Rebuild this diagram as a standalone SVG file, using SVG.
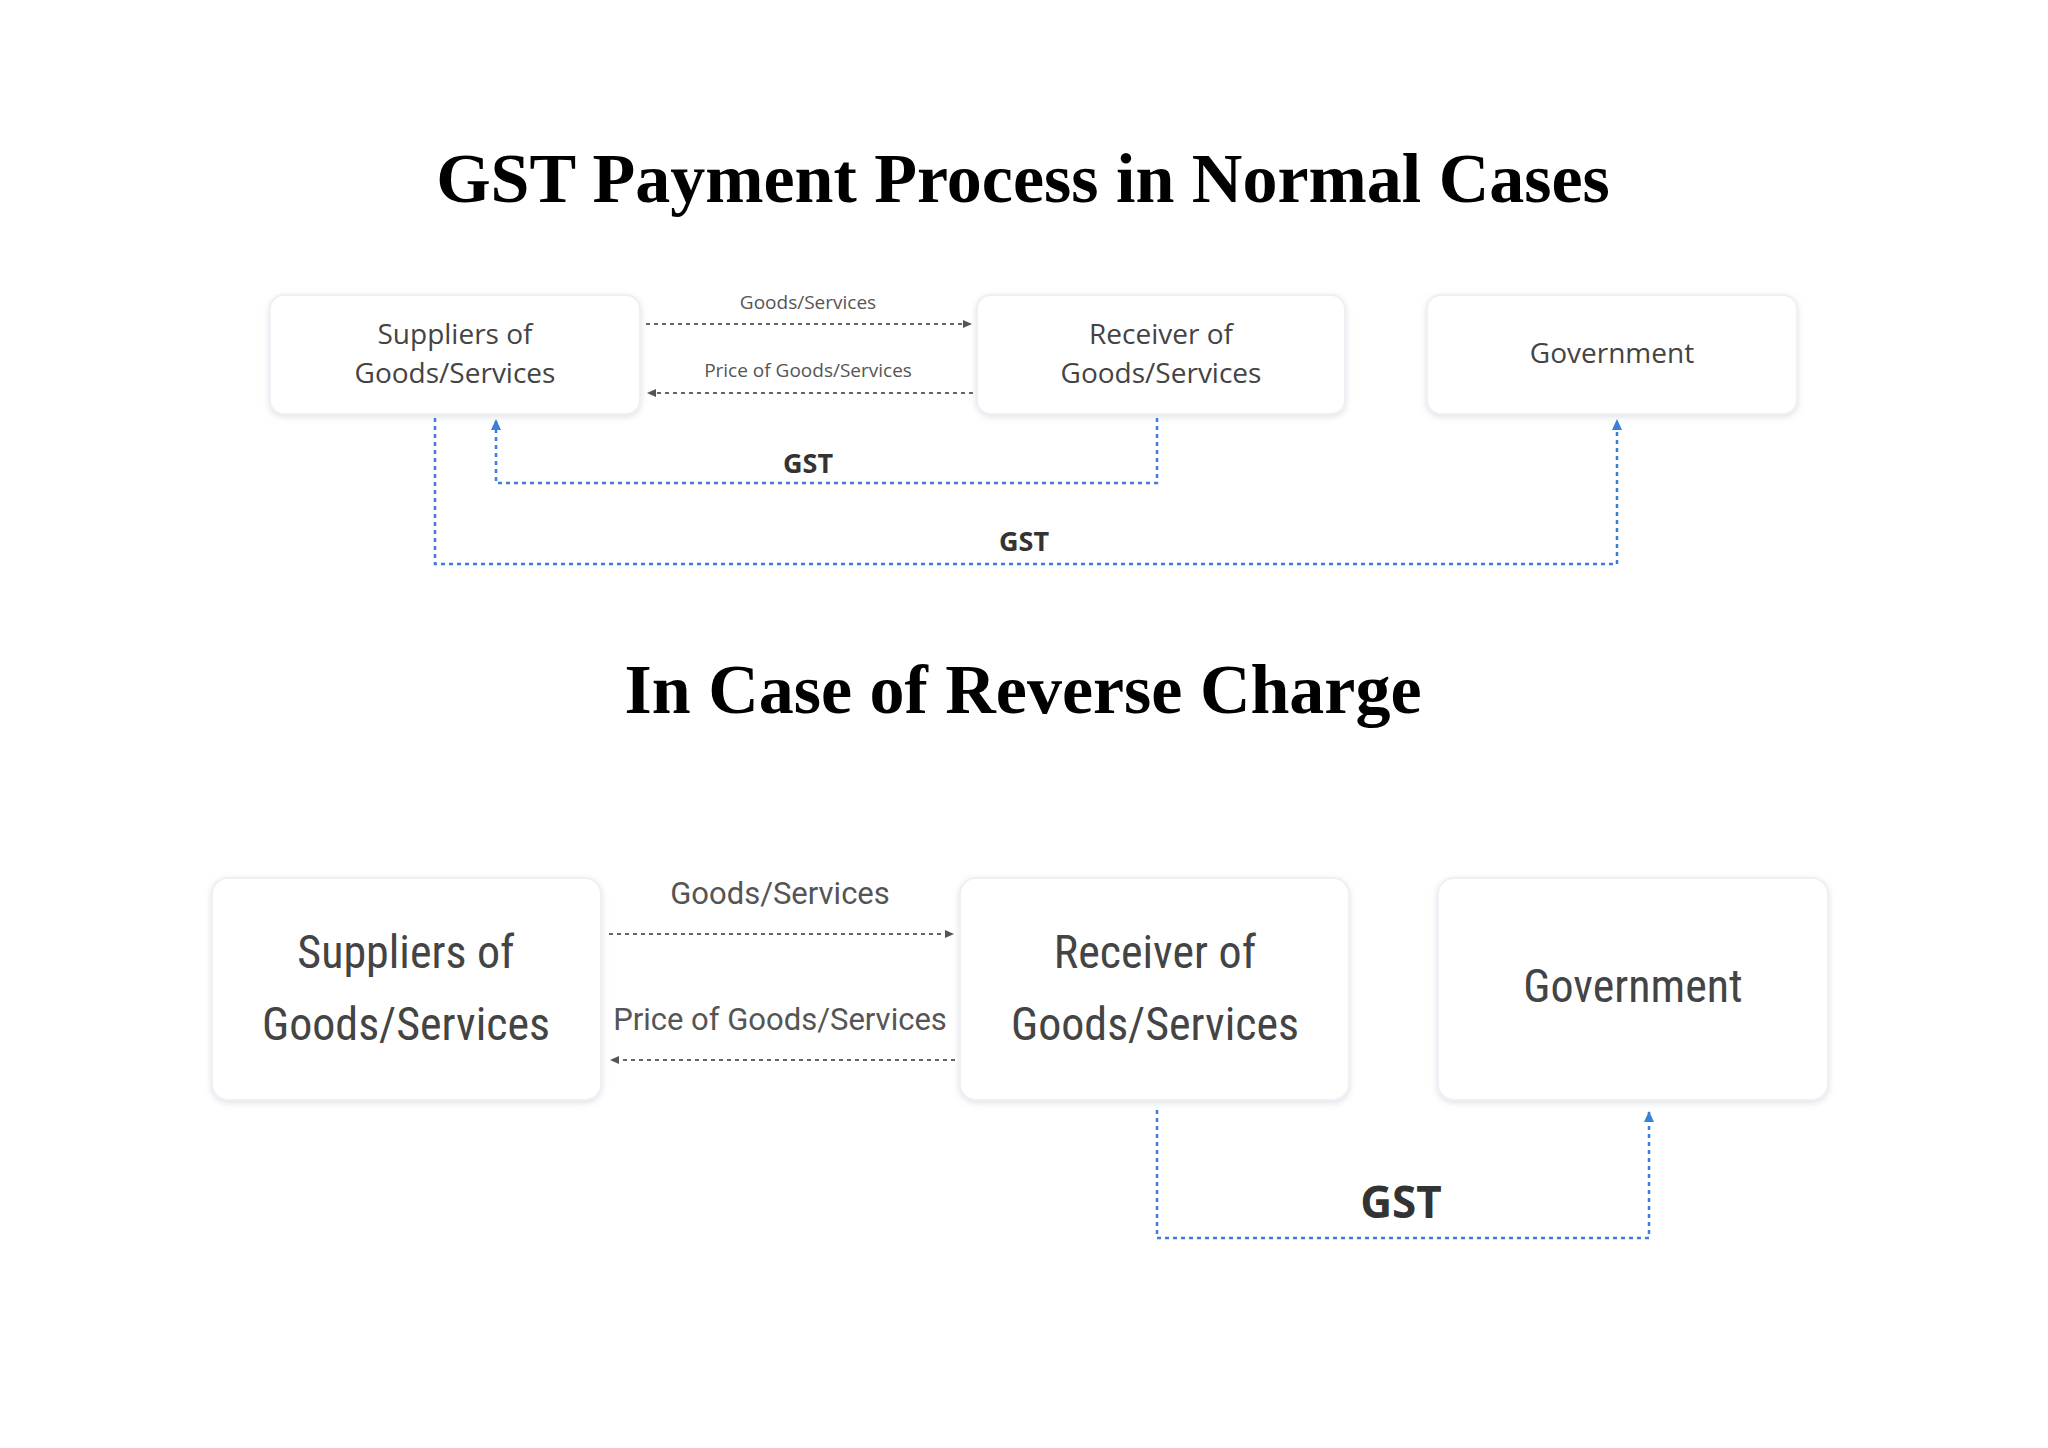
<svg xmlns="http://www.w3.org/2000/svg" width="2048" height="1448" viewBox="0 0 2048 1448">
<defs>
<filter id="sh" x="-10%" y="-10%" width="120%" height="130%"><feDropShadow dx="0" dy="2" stdDeviation="3" flood-color="#c8cdd8" flood-opacity="0.6"/></filter>
<marker id="ag" markerWidth="10" markerHeight="10" refX="8" refY="5" orient="auto" markerUnits="userSpaceOnUse"><path d="M0,1 L9,5 L0,9 z" fill="#555"/></marker>
<marker id="ab" markerWidth="12" markerHeight="12" refX="10" refY="6" orient="auto" markerUnits="userSpaceOnUse"><path d="M0,1 L11,6 L0,11 z" fill="#3b7fd8"/></marker>
</defs>
<style>
.title{font-family:"Liberation Serif",serif;font-weight:bold;fill:#000;text-anchor:middle}
.box{fill:#fff;stroke:#eef0f4;stroke-width:2;filter:url(#sh)}
.t1{font-family:"Open Sans",sans-serif;font-size:28px;fill:#444;text-anchor:middle}
.t2{font-family:"Roboto",sans-serif;font-size:46px;fill:#444;text-anchor:middle;font-stretch:condensed}
.lbl{font-family:"Open Sans",sans-serif;font-size:19px;fill:#555;text-anchor:middle}
.lbl2{font-family:"Roboto",sans-serif;font-size:31px;fill:#555;text-anchor:middle}
.gst{font-family:"Open Sans",sans-serif;font-weight:bold;fill:#333;text-anchor:middle}
.dg{fill:none;stroke:#666;stroke-width:2;stroke-dasharray:4 4}
.db{fill:none;stroke:#3b7fd8;stroke-width:2.5;stroke-dasharray:4 4}
</style>
<rect width="2048" height="1448" fill="#fff"/>
<text class="title" x="1023" y="202" font-size="70">GST Payment Process in Normal Cases</text>
<text class="title" x="1023" y="713" font-size="70">In Case of Reverse Charge</text>
<g id="n1"><rect class="box" x="270" y="295" width="370" height="119" rx="14"/><text class="t1" x="455" y="344">Suppliers of</text><text class="t1" x="455" y="383">Goods/Services</text></g>
<g id="n2"><rect class="box" x="977" y="295" width="368" height="119" rx="14"/><text class="t1" x="1161" y="344">Receiver of</text><text class="t1" x="1161" y="383">Goods/Services</text></g>
<g id="n3"><rect class="box" x="1427" y="295" width="370" height="119" rx="14"/><text class="t1" x="1612" y="363">Government</text></g>
<g id="n4"><rect class="box" x="212" y="878" width="389" height="222" rx="16"/><text class="t2" x="406" y="968">Suppliers of</text><text class="t2" x="406" y="1040">Goods/Services</text></g>
<g id="n5"><rect class="box" x="960" y="878" width="389" height="222" rx="16"/><text class="t2" x="1155" y="968">Receiver of</text><text class="t2" x="1155" y="1040">Goods/Services</text></g>
<g id="n6"><rect class="box" x="1438" y="878" width="390" height="222" rx="16"/><text class="t2" x="1633" y="1002">Government</text></g>
<g id="connectors">
<path class="dg" d="M646,324 H971" marker-end="url(#ag)"/>
<text class="lbl" x="808" y="309">Goods/Services</text>
<path class="dg" d="M973,393 H648" marker-end="url(#ag)"/>
<text class="lbl" x="808" y="377">Price of Goods/Services</text>
<path class="db" d="M1157,418 V483 H496 V420" marker-end="url(#ab)"/>
<text class="gst" x="808" y="473" font-size="27">GST</text>
<path class="db" d="M435,418 V564 H1617 V420" marker-end="url(#ab)"/>
<text class="gst" x="1024" y="551" font-size="27">GST</text>
<path class="dg" d="M609,934 H953" marker-end="url(#ag)" stroke-width="3"/>
<text class="lbl2" x="780" y="904">Goods/Services</text>
<path class="dg" d="M955,1060 H611" marker-end="url(#ag)" stroke-width="3"/>
<text class="lbl2" x="780" y="1030">Price of Goods/Services</text>
<path class="db" d="M1157,1110 V1238 H1649 V1112" marker-end="url(#ab)" stroke-width="3.5"/>
<text class="gst" x="1401" y="1218" font-size="44" font-family="Roboto,sans-serif">GST</text>
</g>
</svg>
